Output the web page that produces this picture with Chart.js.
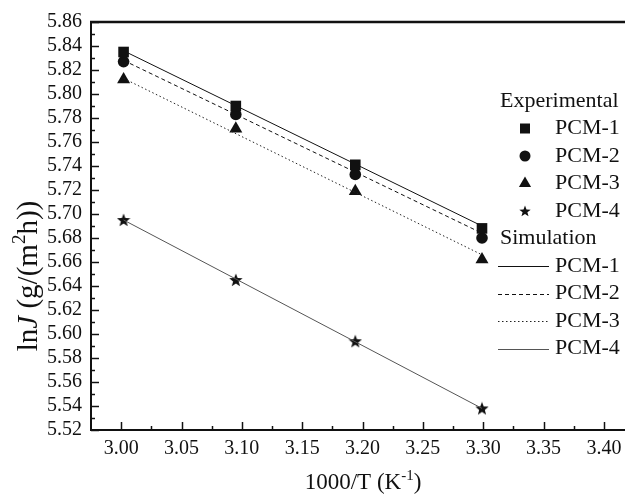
<!DOCTYPE html>
<html>
<head>
<meta charset="utf-8">
<script src="https://cdn.jsdelivr.net/npm/chart.js@4.4.0/dist/chart.umd.min.js"></script>
<style>
  html, body { margin: 0; padding: 0; background: #fff; }
</style>
</head>
<body>
<canvas id="fluxChart" width="625" height="497"></canvas>
<script>
// 1000/T at the four feed temperatures
const invT = [3.002, 3.095, 3.194, 3.299]
// measured ln J
const expPCM1 = [5.835, 5.790, 5.741, 5.688]
const expPCM2 = [5.827, 5.783, 5.733, 5.680]
const expPCM3 = [5.812, 5.771, 5.719, 5.662]
const expPCM4 = [5.695, 5.645, 5.594, 5.538]
// simulated (fitted) lines, start and end
const simT = [3.002, 3.299]
const simPCM1 = [5.836, 5.690]
const simPCM2 = [5.828, 5.684]
const simPCM3 = [5.813, 5.666]
const simPCM4 = [5.695, 5.538]

const names = ['PCM-1', 'PCM-2', 'PCM-3', 'PCM-4']
const xLabels = ['3.00', '3.05', '3.10', '3.15', '3.20', '3.25', '3.30', '3.35', '3.40']
const yLabels = ['5.52', '5.54', '5.56', '5.58', '5.60', '5.62', '5.64', '5.66', '5.68',
                 '5.70', '5.72', '5.74', '5.76', '5.78', '5.80', '5.82', '5.84', '5.86']

const serif = "'Liberation Serif', 'Times New Roman', serif"

// major ticks plus a minor one halfway between
const withMinor = (labels) => {
  const out = []
  labels.forEach((l, i) => {
    const v = parseFloat(l)
    out.push(v)
    if (i < labels.length - 1) out.push(Math.round((v + parseFloat(labels[i + 1])) / 2 * 1000) / 1000)
  })
  return out
}
const isMajor = (labels, v) => labels.some(l => Math.abs(parseFloat(l) - v) < 1e-6)

const toPoints = (xs, ys) => xs.map((x, i) => ({ x: x, y: ys[i] }))

// filled five point star used as point style
const makeStar = (size) => {
  const c = document.createElement('canvas')
  c.width = size
  c.height = size
  const g = c.getContext('2d')
  const r = size / 2, ri = r * 0.42
  g.beginPath()
  for (let i = 0; i < 10; i++) {
    const a = -Math.PI / 2 + i * Math.PI / 5
    const rr = i % 2 ? ri : r
    g.lineTo(r + rr * Math.cos(a), r + rr * Math.sin(a) + 0.5)
  }
  g.closePath()
  g.fillStyle = '#111'
  g.fill()
  return c
}
const star = makeStar(14)
const starSmall = makeStar(12)

const markers = [
  { pointStyle: 'rect', pointRadius: 7.5 },
  { pointStyle: 'circle', pointRadius: 5.8 },
  { pointStyle: 'triangle', pointRadius: 7.5 },
  { pointStyle: star, pointRadius: 7 }
]
const lineStyles = [
  { borderColor: '#111', borderWidth: 1, borderDash: [] },
  { borderColor: '#111', borderWidth: 1, borderDash: [4, 3] },
  { borderColor: '#222', borderWidth: 1, borderDash: [1.5, 2.5] },
  { borderColor: '#555', borderWidth: 1, borderDash: [] }
]

const expSeries = [expPCM1, expPCM2, expPCM3, expPCM4]
const simSeries = [simPCM1, simPCM2, simPCM3, simPCM4]

const datasets = []
simSeries.forEach((s, i) => {
  datasets.push(Object.assign({
    label: 'Simulation ' + names[i],
    data: toPoints(simT, s),
    showLine: true,
    pointRadius: 0,
    fill: false
  }, lineStyles[i]))
})
expSeries.forEach((s, i) => {
  datasets.push(Object.assign({
    label: 'Experimental ' + names[i],
    data: toPoints(invT, s),
    showLine: false,
    backgroundColor: '#111',
    borderWidth: 0
  }, markers[i]))
})

// draws text pieces one after another, centred on 0,0
const drawPieces = (ctx, pieces) => {
  let total = 0
  pieces.forEach(p => { ctx.font = p.font; p.w = ctx.measureText(p.text).width; total += p.w })
  let x = -total / 2
  ctx.textAlign = 'left'
  ctx.textBaseline = 'middle'
  pieces.forEach(p => {
    ctx.font = p.font
    ctx.fillText(p.text, x, p.dy || 0)
    x += p.w
  })
}

const drawMarker = (ctx, i, x, y) => {
  ctx.fillStyle = '#111'
  ctx.beginPath()
  if (i === 0) {
    ctx.rect(x - 5, y - 5, 10, 10)
  } else if (i === 1) {
    ctx.arc(x, y, 5.5, 0, Math.PI * 2)
  } else if (i === 2) {
    ctx.moveTo(x, y - 7)
    ctx.lineTo(x + 6.1, y + 3.5)
    ctx.lineTo(x - 6.1, y + 3.5)
    ctx.closePath()
  } else {
    ctx.drawImage(starSmall, x - 6, y - 6)
    return
  }
  ctx.fill()
}

const decorations = {
  id: 'decorations',
  afterDraw(chart) {
    const { ctx, chartArea: a, scales } = chart
    const line = (x1, y1, x2, y2) => { ctx.beginPath(); ctx.moveTo(x1, y1); ctx.lineTo(x2, y2); ctx.stroke() }
    ctx.save()
    ctx.strokeStyle = '#111'
    ctx.lineWidth = 1.5
    // inward tick marks
    scales.x.ticks.forEach(t => {
      const px = Math.round(scales.x.getPixelForValue(t.value)) + 0.5
      line(px, a.bottom, px, a.bottom - (t.label ? 8 : 4))
    })
    scales.y.ticks.forEach(t => {
      const py = Math.round(scales.y.getPixelForValue(t.value)) + 0.5
      line(a.left, py, a.left + (t.label ? 8 : 4), py)
    })
    // top frame line
    ctx.lineWidth = 2.5
    line(a.left - 1, a.top, a.right, a.top)

    // axis titles
    ctx.fillStyle = '#111'
    ctx.save()
    ctx.translate(29, 276)
    ctx.rotate(-Math.PI / 2)
    drawPieces(ctx, [
      { text: 'ln', font: '29px ' + serif },
      { text: 'J', font: 'italic 29px ' + serif },
      { text: ' (g/(m', font: '29px ' + serif },
      { text: '2', font: '19px ' + serif, dy: -9 },
      { text: 'h))', font: '29px ' + serif }
    ])
    ctx.restore()
    ctx.save()
    ctx.translate(363, 483)
    drawPieces(ctx, [
      { text: '1000/T (K', font: '23px ' + serif },
      { text: '-1', font: '15px ' + serif, dy: -7 },
      { text: ')', font: '23px ' + serif }
    ])
    ctx.restore()

    // legend
    const row0 = 101, step = 27.5
    ctx.font = '22px ' + serif
    ctx.textAlign = 'left'
    ctx.textBaseline = 'middle'
    ctx.fillText('Experimental', 500, row0)
    names.forEach((n, i) => {
      const y = row0 + step * (i + 1)
      drawMarker(ctx, i, 525, y)
      ctx.fillStyle = '#111'
      ctx.fillText(n, 555, y)
    })
    ctx.fillText('Simulation', 500, row0 + step * 5)
    names.forEach((n, i) => {
      const y = row0 + step * (i + 6)
      const st = lineStyles[i]
      ctx.strokeStyle = st.borderColor
      ctx.lineWidth = st.borderWidth
      ctx.setLineDash(st.borderDash)
      line(498, Math.round(y) + 0.5, 549, Math.round(y) + 0.5)
      ctx.setLineDash([])
      ctx.fillText(n, 555, y)
    })
    ctx.restore()
  }
}

const ctx = document.querySelector('#fluxChart')
const fluxChart = new Chart(ctx, {
  type: 'scatter',
  data: { datasets: datasets },
  options: {
    responsive: false,
    animation: false,
    devicePixelRatio: 1,
    layout: { autoPadding: false, padding: { top: 22, right: 0, bottom: 0, left: 0 } },
    plugins: { legend: { display: false }, tooltip: { enabled: false } },
    scales: {
      x: {
        type: 'linear',
        min: 2.975,
        max: 3.4175,
        grid: { display: false, drawTicks: false },
        border: { display: true, color: '#111', width: 2 },
        afterBuildTicks: s => { s.ticks = withMinor(xLabels).map(v => ({ value: v })) },
        afterFit: s => { s.height = 67; s.paddingLeft = 0; s.paddingRight = 0 },
        ticks: {
          autoSkip: false,
          maxRotation: 0,
          padding: 7,
          color: '#111',
          font: { family: serif, size: 20 },
          callback: v => isMajor(xLabels, v) ? v.toFixed(2) : ''
        }
      },
      y: {
        type: 'linear',
        min: 5.52,
        max: 5.86,
        grid: { display: false, drawTicks: false },
        border: { display: true, color: '#111', width: 2 },
        afterBuildTicks: s => { s.ticks = withMinor(yLabels).map(v => ({ value: v })) },
        afterFit: s => { s.width = 91 },
        ticks: {
          autoSkip: false,
          padding: 9,
          color: '#111',
          font: { family: serif, size: 20 },
          callback: v => isMajor(yLabels, v) ? v.toFixed(2) : ''
        }
      }
    }
  },
  plugins: [decorations]
})
</script>
</body>
</html>
